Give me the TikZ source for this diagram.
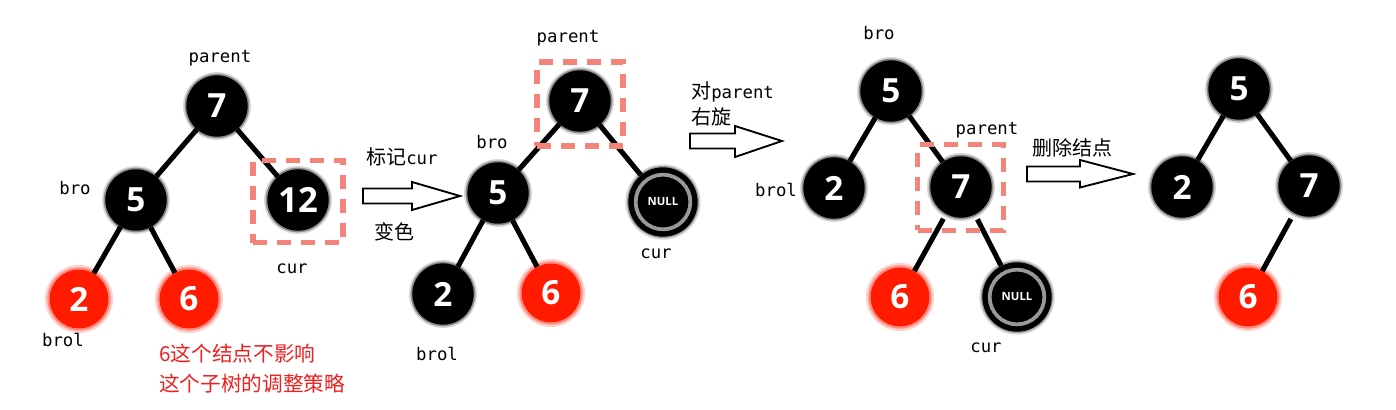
\documentclass[tikz,border=0pt]{standalone}
\usepackage{fontspec}
\setmainfont{Noto Sans CJK SC}
\newfontfamily\cjkf{Noto Sans CJK SC}
\newfontfamily\monof{DejaVu Sans Mono}
\newfontfamily\digf{Open Sans}[BoldFont={Open Sans Bold}]
\definecolor{nodered}{HTML}{FF1A00}
\definecolor{boxsalmon}{HTML}{F4847A}
\definecolor{txtred}{HTML}{F02020}
\tikzset{
  bnode/.style={circle,fill=black,minimum size=46pt,inner sep=0pt,text=white,
    font=\digf\bfseries\fontsize{25}{25}\selectfont,
    preaction={draw=black!15,line width=5pt},
    preaction={draw=black!45,line width=2.5pt}},
  rnode/.style={circle,fill=nodered,minimum size=44pt,inner sep=0pt,text=white,
    font=\digf\bfseries\fontsize{25}{25}\selectfont,
    preaction={draw=nodered!20,line width=7pt},
    preaction={draw=nodered!50,line width=3.5pt}},
  nullnode/.style={circle,fill=black,minimum size=52pt,inner sep=0pt,text=white,
    font=\digf\bfseries\fontsize{8.5}{9}\selectfont,
    preaction={draw=black!15,line width=4.5pt},
    preaction={draw=black!40,line width=2pt}},
  lbl/.style={font=\monof\fontsize{13}{14}\selectfont,inner sep=0pt},
  cjklbl/.style={font=\cjkf\fontsize{15}{16}\selectfont,inner sep=0pt,anchor=west},
  edge/.style={line width=3.8pt,black},
  dbox/.style={draw=boxsalmon,line width=3.8pt,dash pattern=on 10.5pt off 7.5pt},
  harrow/.style={draw=black,line width=1.4pt,fill=white},
}
\newcommand{\ringnull}[1]{\draw[gray!80,line width=2.8pt] (#1) circle[radius=20.5pt];}
\begin{document}
\begin{tikzpicture}[x=0.75pt,y=-0.75pt]
\useasboundingbox (0,0) rectangle (1396,410);
\fill[white] (0,0) rectangle (1396,410);

% ===== Tree 1 =====
\node[bnode] (a7) at (217,106) {7};
\node[bnode] (a5) at (136,200) {5};
\node[bnode,font=\digf\bfseries\fontsize{26}{26}\selectfont] (a12) at (298,200) {12};
\node[rnode] (a2) at (79,299) {2};
\node[rnode] (a6) at (189,299) {6};
\draw[edge] (a7) -- (a5);
\draw[edge] (a7) -- (a12);
\draw[edge] (a5) -- (a2);
\draw[edge] (a5) -- (a6);
\node[lbl] (a7l) at (220,58) {parent};
\node[lbl] (a5l) at (75,188) {bro};
\node[lbl] (a2l) at (63,340) {brol};
\node[lbl] (a12l) at (292,269) {cur};
\node[dbox,minimum width=67.5pt,minimum height=62pt,inner sep=0pt] (abox) at (298,201.5) {};
\node[font=\cjkf\fontsize{15.5}{22}\selectfont,text=txtred,align=left,anchor=north west,inner sep=0pt] (anote) at (159,344) {6这个结点不影响\\这个子树的调整策略};

% arrow 1
\draw[harrow] (363,188.5) -- (412,188.5) -- (412,182) -- (460,196) -- (412,210) -- (412,203.5) -- (363,203.5) -- cycle;
\node[cjklbl] (ar1a) at (366,157) {标记{\monof\fontsize{13}{14}\selectfont cur}};
\node[cjklbl] (ar1b) at (374,232) {变色};

% ===== Tree 2 =====
\node[bnode] (b7) at (580,101) {7};
\node[bnode] (b5) at (498,193) {5};
\node[nullnode] (bn) at (663,202) {NULL};
\node[bnode] (b2) at (443,294) {2};
\node[rnode] (b6) at (551,293) {6};
\draw[edge] (b7) -- (b5);
\draw[edge] (b7) -- (bn);
\draw[edge] (b5) -- (b2);
\draw[edge] (b5) -- (b6);
\ringnull{bn}
\node[lbl] (b7l) at (568,38) {parent};
\node[lbl] (b5l) at (492,142) {bro};
\node[lbl] (bnl) at (656,254) {cur};
\node[lbl] (b2l) at (437,354) {brol};
\node[dbox,minimum width=64.5pt,minimum height=63pt,inner sep=0pt] (bbox) at (580,104) {};

% arrow 2
\draw[harrow] (690,133.5) -- (735,133.5) -- (735,126) -- (782,141) -- (735,157) -- (735,148.5) -- (690,148.5) -- cycle;
\node[cjklbl] (ar2a) at (691,92) {对{\monof\fontsize{13}{14}\selectfont parent}};
\node[cjklbl] (ar2b) at (691,117) {右旋};

% ===== Tree 3 =====
\node[bnode] (c5) at (891,91) {5};
\node[bnode] (c2) at (834,188) {2};
\node[bnode] (c7) at (961,187) {7};
\node[rnode] (c6) at (900,297) {6};
\node[nullnode] (cn) at (1017,297) {NULL};
\draw[edge] (c5) -- (c2);
\draw[edge] (c5) -- (c7);
\draw[edge,shorten <=4pt] (c7) -- (c6);
\draw[edge,shorten <=4pt] (c7) -- (cn);
\ringnull{cn}
\node[lbl] (c5l) at (879,33) {bro};
\node[lbl] (c2l) at (776,190) {brol};
\node[lbl] (c7l) at (987,130) {parent};
\node[lbl] (cnl) at (986,348) {cur};
\node[dbox,minimum width=64pt,minimum height=64pt,inner sep=0pt] (cbox) at (960.5,187.5) {};

% arrow 3
\draw[harrow] (1027,166.5) -- (1080,166.5) -- (1080,160) -- (1133,174) -- (1080,187.5) -- (1080,181.5) -- (1027,181.5) -- cycle;
\node[cjklbl] (ar3a) at (1032,148) {删除结点};

% ===== Tree 4 =====
\node[bnode] (d5) at (1239,89) {5};
\node[bnode] (d2) at (1182,187) {2};
\node[bnode] (d7) at (1309,186) {7};
\node[rnode] (d6) at (1248,297) {6};
\draw[edge] (d5) -- (d2);
\draw[edge] (d5) -- (d7);
\draw[edge,shorten <=5pt] (d7) -- (d6);
\end{tikzpicture}
\end{document}
